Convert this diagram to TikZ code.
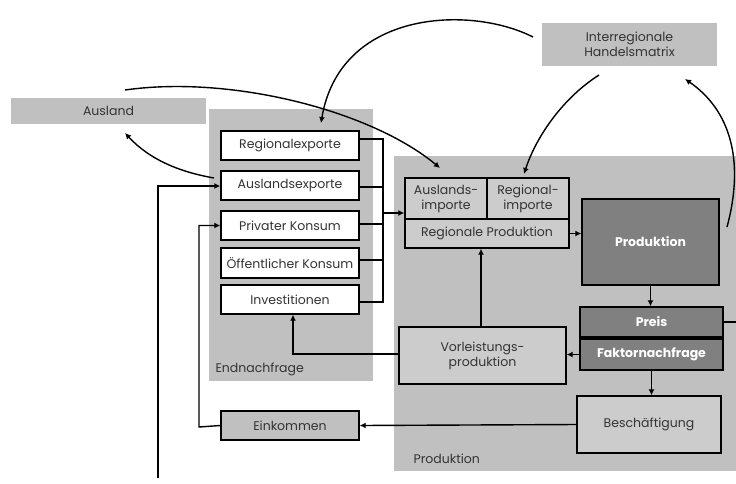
\documentclass[tikz,border=0pt]{standalone}
\usepackage{fontspec}
\setmainfont{Poppins}
\usetikzlibrary{arrows.meta,calc}
\definecolor{panelgray}{HTML}{C0C0C0}
\definecolor{boxgray}{HTML}{CCCCCC}
\definecolor{darkbox}{HTML}{808080}
\definecolor{txt}{HTML}{333333}
\tikzset{
  lbl/.style={font=\fontsize{12.5}{15}\selectfont, text=txt},
  wbox/.style={draw=black, line width=1.4pt, fill=white, inner sep=0pt, lbl},
  gbox/.style={draw=black, line width=1.4pt, fill=boxgray, inner sep=0pt, lbl, align=center},
  dbox/.style={draw=black, line width=1.4pt, fill=darkbox, inner sep=0pt, font=\fontsize{12.5}{15}\selectfont\bfseries, text=white},
  conn/.style={line width=1.4pt, draw=black},
  arr/.style={conn, -{Latex[length=6pt,width=6pt]}},
}
\begin{document}
\begin{tikzpicture}[x=1pt,y=-1pt]
\useasboundingbox (0,0) rectangle (736,483);
% panels
\fill[panelgray] (209,109) rectangle (373,381);
\fill[panelgray] (394,156) rectangle (736,471);
\node[lbl, anchor=west] (endlbl) at (212,369) {Endnachfrage};
\node[lbl, anchor=west] (prodlbl) at (410,459) {Produktion};
% top gray boxes
\node[fill=panelgray, minimum width=195pt, minimum height=26pt, inner sep=0pt, lbl] (ausland) at (108.5,111) {Ausland};
\node[fill=panelgray, minimum width=175pt, minimum height=43pt, inner sep=0pt, lbl, align=center] (handels) at (629.5,44.5) {Interregionale\\Handelsmatrix};
% final demand
\node[wbox, minimum width=138pt, minimum height=29pt] (regex) at (290,145.5) {Regionalexporte};
\node[wbox, minimum width=138pt, minimum height=29pt] (ausex) at (290,185.5) {Auslandsexporte};
\node[wbox, minimum width=138pt, minimum height=29pt] (privk) at (290,225.5) {Privater Konsum};
\node[wbox, minimum width=138pt, minimum height=30pt] (oeffk) at (290,263) {Öffentlicher Konsum};
\node[wbox, minimum width=138pt, minimum height=29pt] (invest) at (290,299.5) {Investitionen};
\node[draw=black, line width=1.4pt, fill=panelgray, inner sep=0pt, lbl, minimum width=138pt, minimum height=29pt] (eink) at (290,425.5) {Einkommen};
% production
\node[gbox, minimum width=82pt, minimum height=41pt] (ausimp) at (446,198.5) {Auslands-\\importe};
\node[gbox, minimum width=82pt, minimum height=41pt] (regimp) at (528,198.5) {Regional-\\importe};
\node[gbox, minimum width=164pt, minimum height=29pt] (regprod) at (487,233.5) {Regionale Produktion};
\node[dbox, minimum width=137pt, minimum height=86pt] (prod) at (650.5,242) {Produktion};
\node[dbox, minimum width=143pt, minimum height=30pt] (preis) at (651.5,322) {Preis};
\node[dbox, minimum width=143pt, minimum height=31pt] (faktor) at (651.5,354.5) {Faktornachfrage};
\node[gbox, minimum width=167pt, minimum height=57pt] (vorl) at (482.5,355.5) {Vorleistungs-\\produktion};
\node[gbox, minimum width=144pt, minimum height=57pt] (besch) at (649,424.5) {Beschäftigung};
% bus
\coordinate (b1) at (383,139);
\coordinate (b2) at (383,187);
\coordinate (b3) at (383,224);
\coordinate (b4) at (383,260);
\coordinate (b5) at (383,302);
\coordinate (ba) at (383,213);
\draw[conn] (b1 -| regex.east) -- (b1) -- (b5) -- (b5 -| invest.east);
\draw[conn] (b2 -| ausex.east) -- (b2);
\draw[conn] (b3 -| privk.east) -- (b3);
\draw[conn] (b4 -| oeffk.east) -- (b4);
\draw[arr] (ba) -- (ba -| ausimp.west);
% production flows
\draw[arr] (regprod.east) -- (regprod.east -| prod.west);
\draw[arr] (prod.south) -- (prod.south |- preis.north);
\draw[arr] (faktor.south) -- (faktor.south |- besch.north);
\draw[arr] (faktor.west) -- (faktor.west -| vorl.east);
\draw[arr] (vorl.north -| 481,0) -- (regprod.south -| 481,0);
\coordinate (vi) at (293,354);
\draw[arr] (vi -| vorl.west) -- (vi) -- (vi |- invest.south);
\draw[arr] (besch.west) -- (eink.east);
\coordinate (ek) at (199,427);
\draw[arr] (eink.west) -- (ek) -- (ek |- privk.west) -- (privk.west);
\coordinate (loose) at (158,478);
\draw[arr] (loose) -- (loose |- 0,186) -- (ausex.west |- 0,186);
\coordinate (pr) at (736,322);
\draw[conn] (preis.east) -- (pr);
% curves
\coordinate (h1) at (533,37);
\draw[arr] (h1) .. controls (470,5) and (340,10) .. (321,123);
\coordinate (c2) at (125,90);
\draw[arr] (c2) .. controls (230,75) and (370,110) .. (440,168);
\coordinate (h2) at (599,75);
\draw[arr] (h2) .. controls (560,100) and (535,140) .. (524,174);
\coordinate (p1) at (727,227);
\draw[arr] (p1) .. controls (745,160) and (730,110) .. (685,79);
\coordinate (a1) at (214,178);
\draw[arr] (a1) .. controls (180,172) and (150,160) .. (125,133);
\end{tikzpicture}
\end{document}
